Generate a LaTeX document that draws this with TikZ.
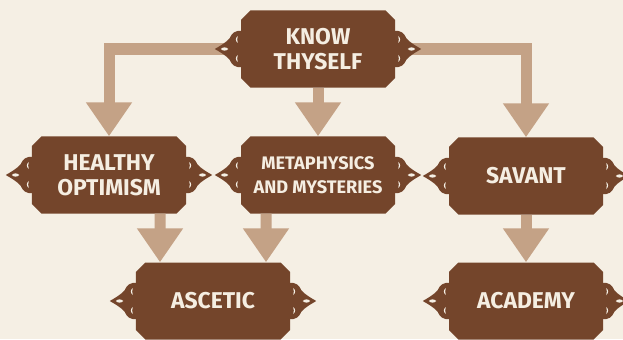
\documentclass[tikz,border=0pt]{standalone}
\usepackage{fontspec}
\setmainfont{Fira Sans}
\usetikzlibrary{arrows.meta,shapes.misc}

\definecolor{paper}{HTML}{F5EFE4}
\definecolor{bark}{HTML}{74452B}
\definecolor{clay}{HTML}{C4A286}
\definecolor{chalk}{HTML}{F5EEE2}

\begin{document}
\begin{tikzpicture}[x=0.03cm, y=-0.03cm,
    tile/.style={chamfered rectangle, chamfered rectangle xsep=0.16cm,
        fill=bark, text=chalk, minimum width=4.62cm, minimum height=2.31cm,
        inner sep=0pt, align=center,
        font=\bfseries\fontsize{19.5}{21.3}\selectfont},
    smalltext/.style={font=\bfseries\fontsize{15.5}{20.4}\selectfont},
    flow/.style={draw=clay, line width=0.33cm, line join=miter,
        -{Triangle[width=1.32cm, length=1.02cm]}},
    knot/.pic={
        \fill[bark] (1,-18) .. controls (-5,-19) and (-9,-16) .. (-11,-11)
            .. controls (-15,-6) and (-21,-3) .. (-26,0)
            .. controls (-21,3) and (-15,6) .. (-11,11)
            .. controls (-9,16) and (-5,19) .. (1,18) -- cycle;
        \fill[paper] (-20,0) .. controls (-17.5,-2.2) and (-15,-2.2) .. (-12.5,0)
            .. controls (-15,2.2) and (-17.5,2.2) .. cycle;
        \fill[paper] (-3,-13) .. controls (-5.5,-11) and (-5.5,-8) .. (-3,-6)
            .. controls (-3.8,-8) and (-3.8,-11) .. cycle;
        \fill[paper] (-3,13) .. controls (-5.5,11) and (-5.5,8) .. (-3,6)
            .. controls (-3.8,8) and (-3.8,11) .. cycle;
    }]

    % Page
    \useasboundingbox (0,0) rectangle (623,339);
    \clip (0,0) rectangle (623,339);
    \fill[paper] (0,0) rectangle (623,339);

    % Tiles
    \node[tile] (know) at (318,49) {KNOW\\THYSELF};
    \node[tile] (healthy) at (109,175) {HEALTHY\\OPTIMISM};
    \node[tile, smalltext] (meta) at (318,175) {METAPHYSICS\\AND MYSTERIES};
    \node[tile] (savant) at (526,176) {SAVANT};
    \node[tile] (ascetic) at (213,301) {ASCETIC};
    \node[tile] (academy) at (526,301) {ACADEMY};

    % Arrows
    \draw[flow] (know.west) -| (healthy.north);
    \draw[flow] (know.east) -| (savant.north);
    \draw[flow] (know.south) -- (meta.north);
    \draw[flow] ([xshift=1.53cm]healthy.south) -- ([xshift=-1.59cm]ascetic.north);
    \draw[flow] ([xshift=-1.56cm]meta.south) -- ([xshift=1.59cm]ascetic.north);
    \draw[flow] (savant.south) -- (academy.north);

    % Knots on the sides
    \foreach \n in {know,healthy,meta,savant,ascetic,academy} {
        \pic at (\n.west) {knot};
        \pic[xscale=-1] at (\n.east) {knot};
    }

\end{tikzpicture}
\end{document}
